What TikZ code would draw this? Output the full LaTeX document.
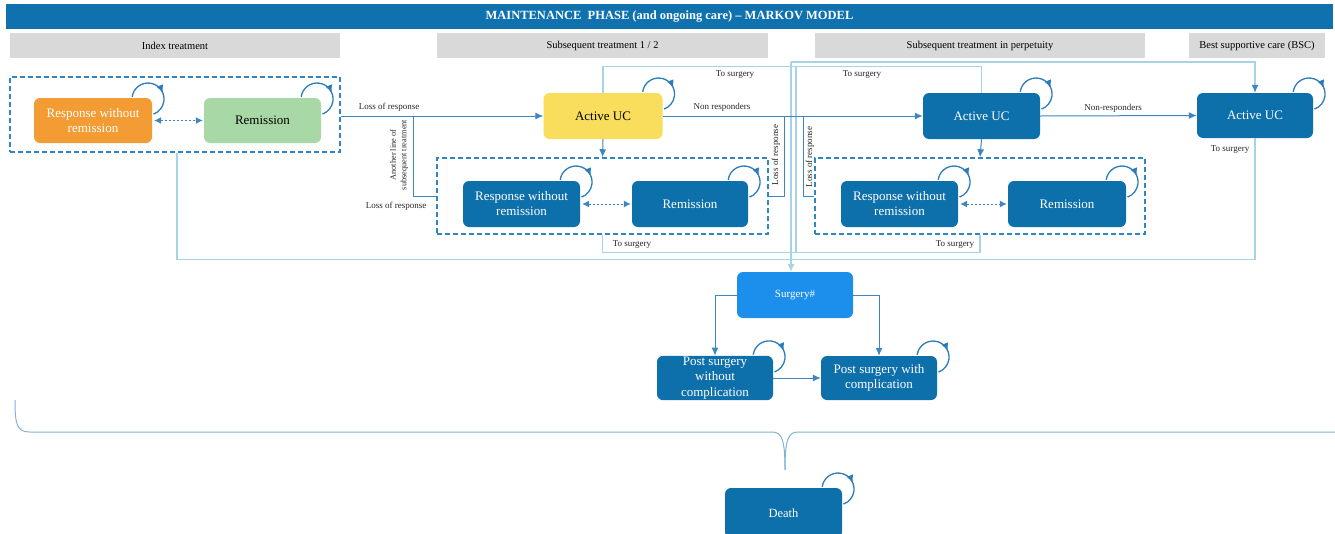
\documentclass[tikz,border=0pt]{standalone}
\usepackage{fontspec}
\setmainfont{Liberation Serif}
\usetikzlibrary{arrows.meta,decorations.markings,calc}

\definecolor{titleblue}{HTML}{0F72AE}
\definecolor{nodeblue}{HTML}{0E70AB}
\definecolor{surgblue}{HTML}{1C8EEC}
\definecolor{orangeb}{HTML}{F39C33}
\definecolor{greenb}{HTML}{A8D8A6}
\definecolor{yellowb}{HTML}{F8DE5C}
\definecolor{hdrgrey}{HTML}{D9D9D9}
\definecolor{dashc}{HTML}{2D87C3}
\definecolor{midc}{HTML}{3D86BF}
\definecolor{lightc}{HTML}{A6D3E5}
\definecolor{bracec}{HTML}{7FB4D3}
\definecolor{loopc}{HTML}{2B7CB9}

% self-transition loop at the upper right corner of a state
\newcommand\selfloop[1]{%
  \draw[loopline] ([xshift=-20pt,yshift=1pt]#1.north east)
    arc[start angle=172,end angle=-70,radius=16pt];}

\begin{document}
\begin{tikzpicture}[x=1pt,y=1pt,
  stbox/.style={rounded corners=6pt, minimum width=117pt, minimum height=46pt,
    inner sep=1pt, align=center, text=white, fill=nodeblue,
    font=\fontsize{13}{15}\selectfont},
  hdr/.style={fill=hdrgrey, minimum height=25pt, inner sep=0pt,
    font=\fontsize{10.5}{12}\selectfont},
  grp/.style={draw=dashc, line width=1.5pt, dash pattern=on 5pt off 3pt,
    minimum height=76pt, minimum width=331pt, inner sep=0pt},
  lbl/.style={font=\fontsize{9}{10}\selectfont, inner sep=0pt, text=black!85},
  conn/.style={draw=midc, line width=1pt},
  arr/.style={conn, -{Latex[length=8pt,width=7pt]}},
  dbl/.style={draw=midc, line width=1pt, dash pattern=on 2pt off 2pt,
    {Latex[length=7pt,width=7pt]}-{Latex[length=7pt,width=7pt]}},
  light/.style={draw=lightc, line width=1.1pt},
  lightarr/.style={light, -{Latex[length=8pt,width=7pt]}},
  loopline/.style={draw=loopc, line width=1.3pt, postaction={decorate},
    decoration={markings, mark=at position 0.62 with
      {\arrow{Latex[length=8pt,width=7pt]}}}}
]
\useasboundingbox (0,0) rectangle (1335,-533);

% title bar and column headers
\node[fill=titleblue, minimum width=1327pt, minimum height=25pt, inner sep=0pt,
  text=white, font=\bfseries\fontsize{12.5}{14}\selectfont] (title) at (669.5,-16.5)
  {MAINTENANCE\ \ PHASE (and ongoing care) – MARKOV MODEL};
\node[hdr, minimum width=330pt] (h1) at (175,-45.5) {Index treatment};
\node[hdr, minimum width=331pt] (h2) at (602.5,-45.5) {Subsequent treatment 1 / 2};
\node[hdr, minimum width=330pt] (h3) at (980,-45.5) {Subsequent treatment in perpetuity};
\node[hdr, minimum width=136pt] (h4) at (1257,-45.5) {Best supportive care (BSC)};

% groups of response states
\node[grp, minimum width=330pt, minimum height=75pt] (grp1) at (175,-114.5) {};
\node[grp] (grp2) at (602.5,-196) {};
\node[grp, minimum width=330pt] (grp3) at (980,-196) {};

% states
\node[stbox, fill=orangeb, minimum width=118pt, minimum height=45pt] (rwr1) at (93,-120.5) {Response without\\remission};
\node[stbox, fill=greenb, text=black, minimum height=45pt] (rem1) at (262.5,-120.5) {Remission};
\node[stbox, fill=yellowb, text=black, minimum width=119pt] (auc1) at (603,-116) {Active UC};
\node[stbox] (rwr2) at (521.5,-204) {Response without\\remission};
\node[stbox, minimum width=116pt] (rem2) at (690,-204) {Remission};
\node[stbox] (auc2) at (981.5,-116) {Active UC};
\node[stbox] (rwr3) at (899.5,-204) {Response without\\remission};
\node[stbox, minimum width=118pt] (rem3) at (1067,-204) {Remission};
\node[stbox, minimum width=116pt, minimum height=45pt] (auc3) at (1255,-115.5) {Active UC};
\node[stbox, fill=surgblue, minimum width=116pt, font=\fontsize{11}{13}\selectfont] (surg) at (795,-295) {Surgery\#};
\node[stbox, minimum width=116pt, minimum height=43pt, font=\fontsize{13}{15.5}\selectfont] (psw) at (715,-378) {Post surgery\\without\\complication};
\node[stbox, minimum width=116pt, minimum height=44pt] (psc) at (879,-378) {Post surgery with\\complication};
\node[stbox, minimum height=50pt, font=\fontsize{12.5}{14}\selectfont] (death) at (783.5,-513) {Death};

% self transitions
\foreach \s in {rwr1,rem1,auc1,rwr2,rem2,auc2,rwr3,rem3,auc3,psw,psc,death}{\selfloop{\s}}

% transitions between response and remission
\draw[dbl] ([xshift=2pt]rwr1.east) -- ([xshift=-1pt]rem1.west);
\draw[dbl] ([xshift=2pt]rwr2.east) -- ([xshift=-1pt]rem2.west);
\draw[dbl] ([xshift=2pt]rwr3.east) -- ([xshift=-1pt]rem3.west);

% "to surgery" routes
\coordinate (tsA) at (791,-62);
\coordinate (tsB) at (796,-67);
\draw[light] (auc1.north) -- ++(0,26) -| (auc2.north);
\draw[light] (grp2.south) -- ++(0,-18) -| (grp3.south);
\draw[light] ([xshift=2pt]grp1.south) -- ++(0,-107) -| (auc3.south);
\draw[light] (tsB) -- (796,-252);
\draw[light, -{Latex[length=8pt,width=7pt,color=midc]}] (tsA) -| (auc3.north);
\draw[lightarr] (tsA) -- (tsA |- surg.north);

% main transitions
\coordinate (b1) at (413,-116);
\coordinate (lr2) at (784,-116);
\coordinate (lr3) at (803,-116);
\draw[arr] (grp1.east |- auc1) -- (auc1.west);
\draw[conn] (b1) |- (grp2.west);
\draw[arr] (auc1.south) -- (grp2.north);
\draw[arr] (auc1.east) -- (auc2.west);
\draw[conn] (grp2.east) -| (lr2);
\draw[conn] (grp3.west) -| (lr3);
\draw[arr] (auc2.south) -- (grp3.north);
\draw[arr] (auc2.east) -- (auc3.west);
\draw[arr] (surg.west) -| (psw.north);
\draw[arr] (surg.east) -| (psc.north);
\draw[arr] (psw.east |- psc) -- (psc.west);

% death brace collecting all states
\coordinate (brL) at (15,-400);
\coordinate (brT) at (785,-470);
\coordinate (brR) at (1335,-432);
\draw[draw=bracec, line width=1pt] (brL) .. controls (15,-425) and (17,-432) .. (30,-432)
  -- (772,-432) .. controls (782,-432) and (785,-440) .. (brT);
\draw[draw=bracec, line width=1pt] (brT) .. controls (785,-440) and (788,-432) .. (798,-432) -- (brR);

% labels
\node[lbl] (l1) at (389,-107) {Loss of response};
\node[lbl, rotate=90, align=center, font=\fontsize{8.3}{10.5}\selectfont] (l2) at (399,-155) {Another line of\\subsequent treatment};
\node[lbl] (l3) at (396,-206) {Loss of response};
\node[lbl] (l4) at (735,-75) {To surgery};
\node[lbl] (l5) at (862,-75) {To surgery};
\node[lbl] (l6) at (722,-107) {Non responders};
\node[lbl, rotate=90] (l7) at (776,-155) {Loss of response};
\node[lbl, rotate=90] (l8) at (810,-157) {Loss of response};
\node[lbl] (l9) at (1113,-108) {Non-responders};
\node[lbl] (l10) at (1230,-150) {To surgery};
\node[lbl] (l11) at (632,-245) {To surgery};
\node[lbl] (l12) at (955,-245) {To surgery};
\end{tikzpicture}
\end{document}
